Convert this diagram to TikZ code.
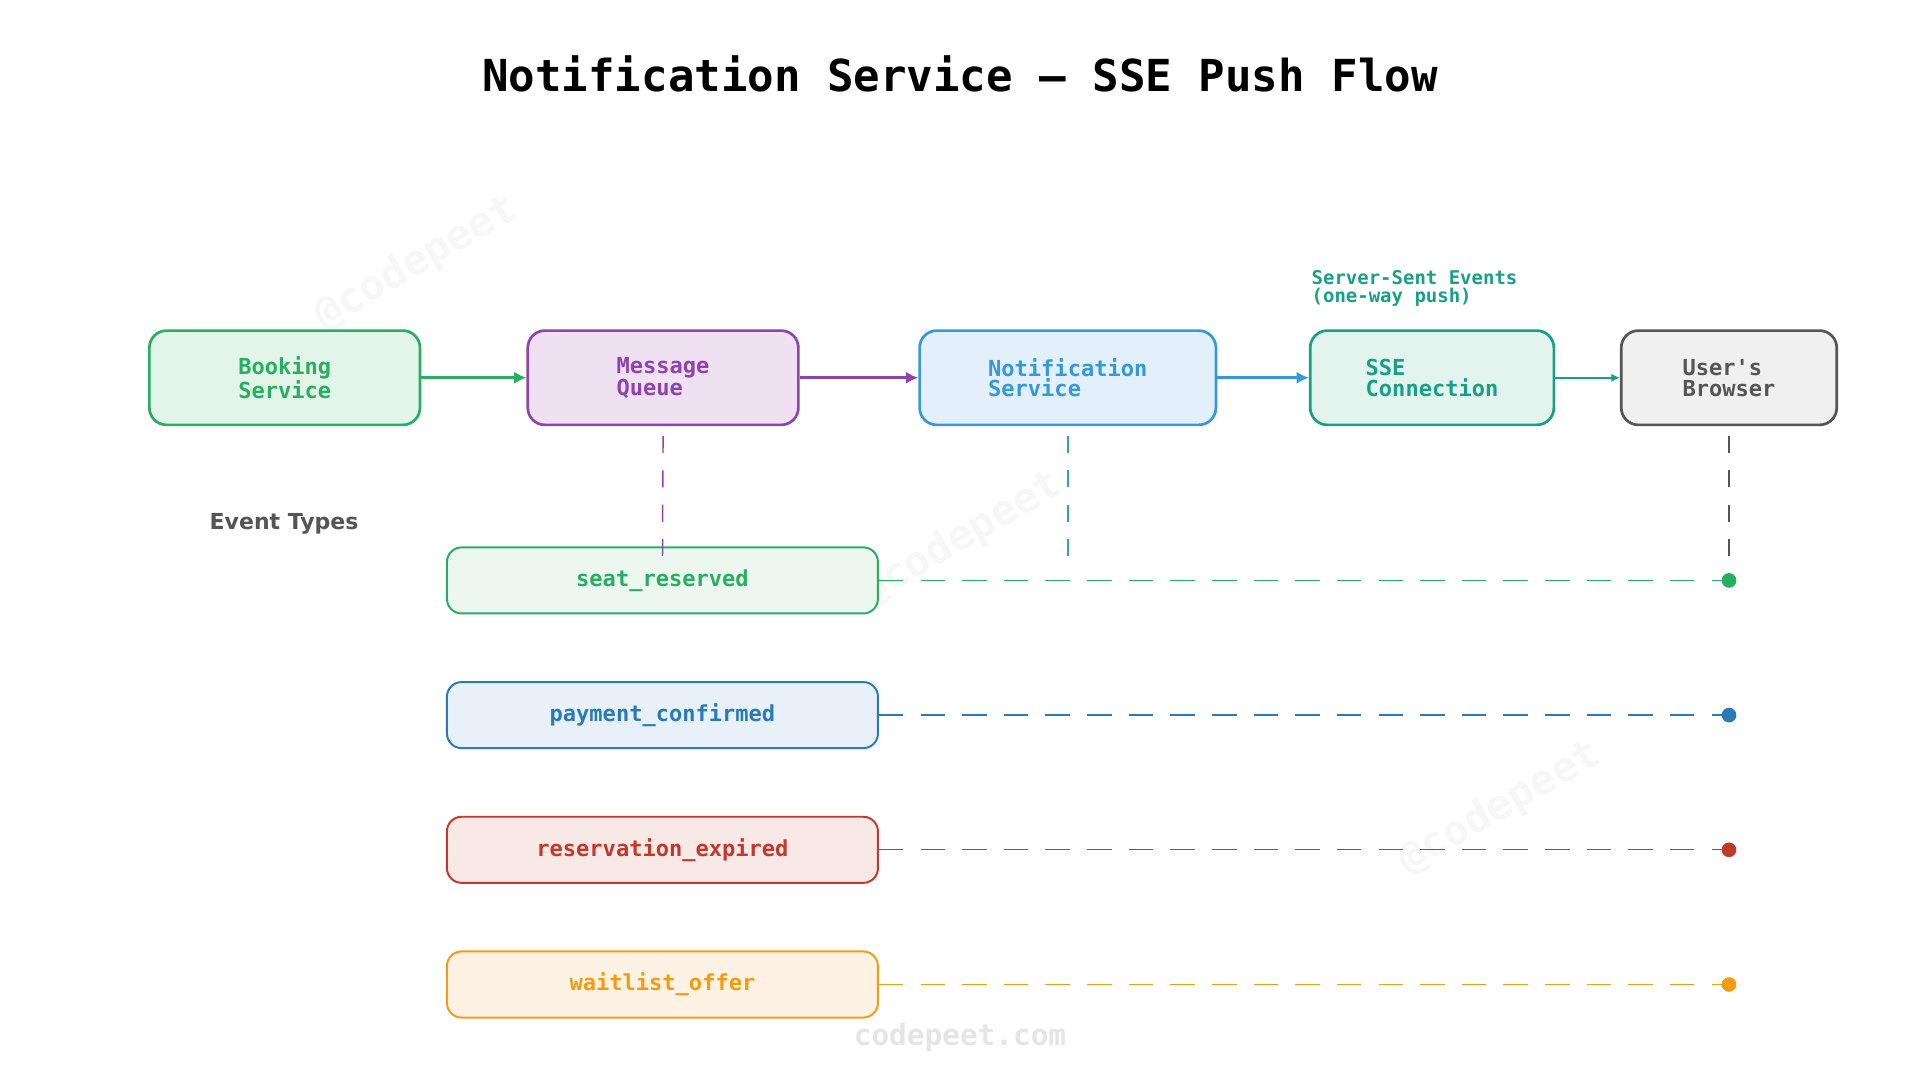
\documentclass[tikz,border=0pt]{standalone}
\usepackage{fontspec}
\setmonofont{DejaVu Sans Mono}
\setsansfont{DejaVu Sans}
\usetikzlibrary{arrows.meta}
\definecolor{cg}{HTML}{27AE60}\definecolor{fg}{HTML}{E3F4E8}
\definecolor{cp}{HTML}{8E44AD}\definecolor{fp}{HTML}{EFE0F2}
\definecolor{cb}{HTML}{3498DB}\definecolor{fb}{HTML}{E3F0FB}
\definecolor{ct}{HTML}{16A085}\definecolor{ft}{HTML}{E3F4EF}
\definecolor{cgr}{HTML}{555555}\definecolor{fgr}{HTML}{F0F0F0}
\definecolor{cb2}{HTML}{2A7AB8}\definecolor{fb2}{HTML}{E8F1FA}
\definecolor{cr}{HTML}{C0392B}\definecolor{fr}{HTML}{F8E8E6}
\definecolor{co}{HTML}{F39C12}\definecolor{fo}{HTML}{FDF2E4}
\begin{document}
\begin{tikzpicture}[x=1pt,y=-1pt,
 flow/.style={draw=#1,line width=2.2pt,rounded corners=14pt,minimum height=77pt,text=#1,align=left,font=\ttfamily\bfseries\fontsize{18}{17}\selectfont},
 ev/.style={draw=#1,line width=1.6pt,rounded corners=12pt,minimum width=352pt,minimum height=54pt,text=#1,font=\ttfamily\bfseries\fontsize{18}{18}\selectfont},
 arr/.style={draw=#1,line width=2.4pt,-{Latex[length=10pt,width=10pt]}},
 vd/.style={draw=#1,line width=1.2pt,dash pattern=on 14pt off 14pt},
 hd/.style={draw=#1,line width=1pt,dash pattern=on 20pt off 14pt},
 wm/.style={text=black!3,font=\ttfamily\bfseries\fontsize{34}{34}\selectfont,rotate=30}]
\useasboundingbox (0,0) rectangle (1568,882);
\node[wm] (w1) at (340,215) {@codepeet};
\node[wm] (w2) at (785,440) {@codepeet};
\node[wm] (w3) at (1225,660) {@codepeet};
\node[text=black!10,font=\ttfamily\bfseries\fontsize{24}{24}\selectfont] (ft) at (784,847) {codepeet.com};
\node[font=\ttfamily\bfseries\fontsize{36}{36}\selectfont] (title) at (784,60) {Notification Service — SSE Push Flow};
\node[flow=cg,fill=fg,minimum width=221pt] (bs) at (232.5,308.5) {Booking\\Service};
\node[flow=cp,fill=fp,minimum width=221pt] (mq) at (541.5,308.5) {Message\\Queue};
\node[flow=cb,fill=fb,minimum width=242pt] (ns) at (872,308.5) {Notification\\Service};
\node[flow=ct,fill=ft,minimum width=199pt] (sse) at (1169.5,308.5) {SSE\\Connection};
\node[flow=cgr,fill=fgr,minimum width=176pt] (ub) at (1412,308.5) {User's\\Browser};
\node[text=ct,align=left,anchor=west,inner sep=0pt,font=\ttfamily\bfseries\fontsize{15.5}{15}\selectfont] (ann) at (1071,235.5) {Server-Sent Events\\(one-way push)};
\draw[arr=cg] (bs) -- (mq);
\draw[arr=cp] (mq) -- (ns);
\draw[arr=cb] (ns) -- (sse);
\draw[draw=ct,line width=2pt,-{Latex[length=7pt,width=7pt]}] (sse) -- (ub);
\node[text=cgr,font=\sffamily\bfseries\fontsize{18}{18}\selectfont] (et) at (232,428) {Event Types};
\node[ev=cg,fill=fg!70] (e1) at (541,474) {seat\_reserved};
\node[ev=cb2,fill=fb2] (e2) at (541,584) {payment\_confirmed};
\node[ev=cr,fill=fr] (e3) at (541,694) {reservation\_expired};
\node[ev=co,fill=fo] (e4) at (541,804) {waitlist\_offer};
\coordinate (mqd) at (541,462);
\coordinate (nsd) at (872,462);
\coordinate (ubd) at (1412,462);
\draw[vd=cp] ([yshift=-8pt]mq.south) -- (mqd);
\draw[vd=cb] ([yshift=-8pt]ns.south) -- (nsd);
\draw[vd=cgr] ([yshift=-8pt]ub.south) -- (ubd);
\foreach \e/\c/\y in {e1/cg/474,e2/cb2/584,e3/cr/694,e4/co/804}{
 \coordinate (d\e) at (1412,\y);
 \draw[hd=\c] (\e.east) -- (d\e);
 \fill[\c] (d\e) circle (6pt);
}
\end{tikzpicture}
\end{document}
